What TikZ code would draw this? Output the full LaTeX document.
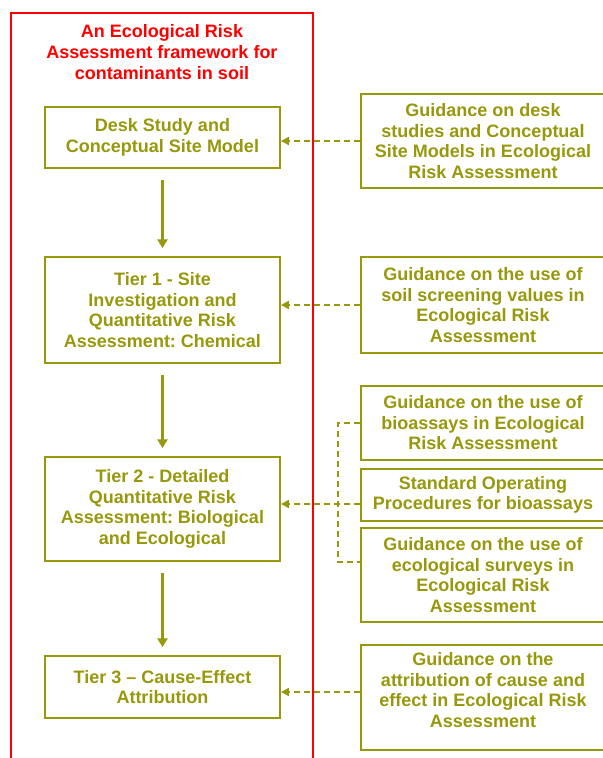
\documentclass[tikz,border=0pt]{standalone}
\usepackage{fontspec}
\setmainfont{Liberation Sans}
\usetikzlibrary{arrows.meta}
\frenchspacing
\definecolor{ecoolive}{RGB}{152,152,12}
\definecolor{ecored}{RGB}{255,0,0}
\tikzset{
  lbox/.style={draw=ecoolive, line width=1.4pt, text=ecoolive,
    font=\bfseries\fontsize{13.5}{15.4}\selectfont, align=center,
    inner sep=0pt, minimum width=176.25pt},
  rbox/.style={lbox, minimum width=183pt},
  titletext/.style={text=ecored, font=\bfseries\fontsize{13.5}{15.6}\selectfont, align=center},
  flow/.style={draw=ecoolive, line width=2.2pt, -{Triangle[length=6.5pt,width=7.5pt]},
    shorten <=8pt, shorten >=6pt},
  guide/.style={draw=ecoolive, line width=1.7pt, dash pattern=on 4.5pt off 3pt,
    -{Triangle[length=6pt,width=6pt]}},
  bracket/.style={draw=ecoolive, line width=1.5pt, dash pattern=on 4.5pt off 3pt},
  frame/.style={draw=ecored, line width=2pt},
}
\begin{document}
\begin{tikzpicture}[x=0.75pt,y=-0.75pt]
\useasboundingbox (0,0) rectangle (603,758);
\clip (0,0) rectangle (603,758);
\fill[white] (0,0) rectangle (603,758);

% red frame
\draw[frame] (11,775) -- (11,13) -- (313,13) -- (313,775);
\node[titletext] (title) at (162,52) {An Ecological Risk\\Assessment framework for\\contaminants in soil};

% left column
\node[lbox, minimum height=45.75pt] (lb1) at (162.5,137.5) {Desk Study and\\Conceptual Site Model};
\node[lbox, minimum height=79.5pt] (lb2) at (162.5,310) {Tier 1 - Site\\Investigation and\\Quantitative Risk\\Assessment: Chemical};
\node[lbox, minimum height=78pt] (lb3) at (162.5,509) {Tier 2 - Detailed\\Quantitative Risk\\Assessment: Biological\\and Ecological};
\node[lbox, minimum height=46.5pt] (lb4) at (162.5,687) {Tier 3 – Cause-Effect\\Attribution};

% right column
\node[rbox, minimum height=70.5pt] (rb1) at (483,141) {Guidance on desk\\studies and Conceptual\\Site Models in Ecological\\Risk Assessment};
\node[rbox, minimum height=72pt] (rb2) at (483,305) {Guidance on the use of\\soil screening values in\\Ecological Risk\\Assessment};
\node[rbox, minimum height=55.5pt] (rb3) at (483,423) {Guidance on the use of\\bioassays in Ecological\\Risk Assessment};
\node[rbox, minimum height=39pt] (rb4) at (483,495) {Standard Operating\\Procedures for bioassays};
\node[rbox, minimum height=70.5pt] (rb5) at (483,575) {Guidance on the use of\\ecological surveys in\\Ecological Risk\\Assessment};
\node[rbox, minimum height=78.75pt, text depth=11pt] (rb6) at (483,697.5) {Guidance on the\\attribution of cause and\\effect in Ecological Risk\\Assessment};

% flow arrows
\draw[flow] (lb1.south) -- (lb2.north);
\draw[flow] (lb2.south) -- (lb3.north);
\draw[flow] (lb3.south) -- (lb4.north);

% guidance connectors
\draw[guide] (rb1.west) -- (rb1.west -| lb1.east);
\draw[guide] (rb2.west) -- (rb2.west -| lb2.east);
\coordinate (j) at (338,504);
\coordinate (k) at (338,562);
\draw[bracket] (rb3.west) -| (k) -- (k -| rb5.west);
\draw[guide] (rb4.west |- j) -- (j -| lb3.east);
\coordinate (t3) at (361,692);
\draw[guide] (rb6.west |- t3) -- (t3 -| lb4.east);
\end{tikzpicture}
\end{document}
